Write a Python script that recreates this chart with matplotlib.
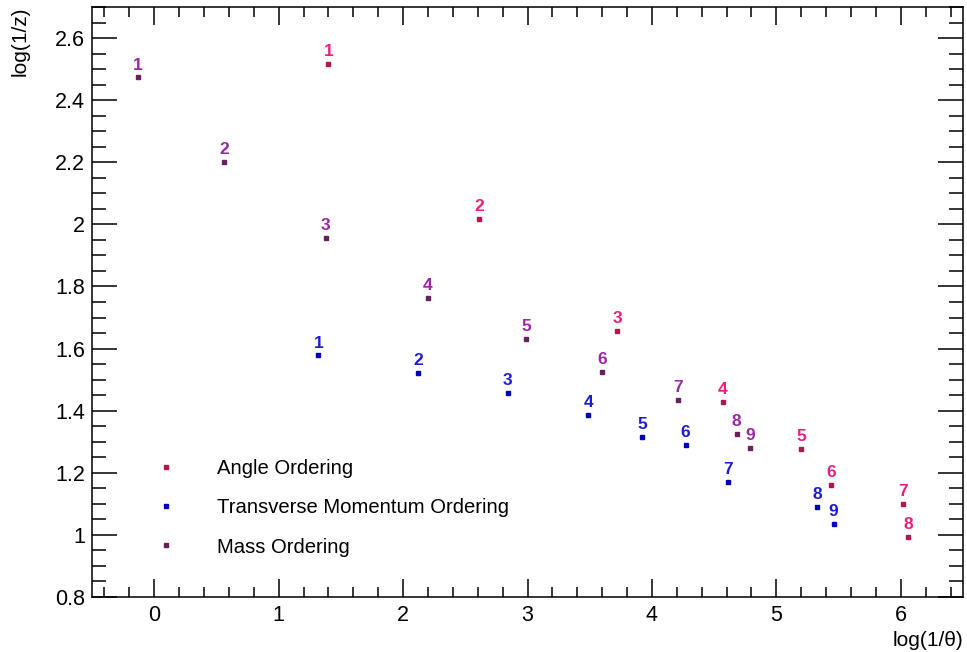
import matplotlib
matplotlib.use("Agg")
import matplotlib.pyplot as plt
from matplotlib.ticker import MultipleLocator, FuncFormatter

# --------------------------------------------------------------
# data
# --------------------------------------------------------------
angle_x = [1.40, 2.61, 3.72, 4.57, 5.20, 5.44, 6.02, 6.06]
angle_y = [2.517, 2.018, 1.656, 1.427, 1.276, 1.161, 1.100, 0.994]

tm_x = [1.32, 2.12, 2.84, 3.49, 3.92, 4.27, 4.61, 5.33, 5.46]
tm_y = [1.578, 1.522, 1.457, 1.386, 1.315, 1.289, 1.170, 1.090, 1.035]

mass_x = [-0.13, 0.56, 1.38, 2.20, 2.99, 3.60, 4.21, 4.68, 4.79]
mass_y = [2.473, 2.202, 1.957, 1.763, 1.631, 1.526, 1.435, 1.324, 1.279]

series = [
    ("Angle Ordering", angle_x, angle_y, "#b3164f", "#ea1f80"),
    ("Transverse Momentum Ordering", tm_x, tm_y, "#0000b8", "#1c1cd8"),
    ("Mass Ordering", mass_x, mass_y, "#6a1f5e", "#9a28a6"),
]

plt.rcParams["font.family"] = ["Liberation Sans", "DejaVu Sans"]

fig = plt.figure(figsize=(9.67, 6.52), dpi=100)
ax = fig.add_axes([92 / 967, 55 / 652, 871 / 967, 590 / 652])

for name, xs, ys, mcol, tcol in series:
    ax.plot(xs, ys, ls="none", marker="s", ms=3, mfc=mcol, mec=mcol, label=name)
    for i, (x, y) in enumerate(zip(xs, ys)):
        ax.annotate(str(i + 1), (x, y), xytext=(0, 3.5), textcoords="offset points",
                    ha="center", va="bottom", fontsize=12.5, fontweight="bold", color=tcol)

ax.set_xlim(-0.5, 6.5)
ax.set_ylim(0.8, 2.7)

# ROOT-like ticks
ax.xaxis.set_major_locator(MultipleLocator(1))
ax.xaxis.set_minor_locator(MultipleLocator(0.2))
ax.yaxis.set_major_locator(MultipleLocator(0.2))
ax.yaxis.set_minor_locator(MultipleLocator(0.05))
ax.yaxis.set_major_formatter(FuncFormatter(lambda v, p: f"{v:g}"))
ax.tick_params(which="both", direction="in", top=True, right=True, width=1.1, colors="black")
ax.tick_params(axis="x", which="major", length=13, pad=6, labelsize=15.5)
ax.tick_params(axis="x", which="minor", length=7)
ax.tick_params(axis="y", which="major", length=18, pad=5, labelsize=15.5)
ax.tick_params(axis="y", which="minor", length=10)
for s in ax.spines.values():
    s.set_linewidth(1.1)

ax.set_xlabel("log(1/\u03b8)", fontsize=15, loc="right")
ax.xaxis.set_label_coords(1.0, -0.058)
ax.set_ylabel("log(1/z)", fontsize=15, loc="top")
ax.yaxis.set_label_coords(-0.072, 1.0)

ax.legend(loc="lower left", bbox_to_anchor=(0.0735, 0.0686), frameon=False,
          fontsize=14.6, handlelength=1.0, handletextpad=2.0, labelspacing=0.99,
          borderpad=0, borderaxespad=0, markerscale=1.0)

fig.savefig("out.png", dpi=100, facecolor="white")
